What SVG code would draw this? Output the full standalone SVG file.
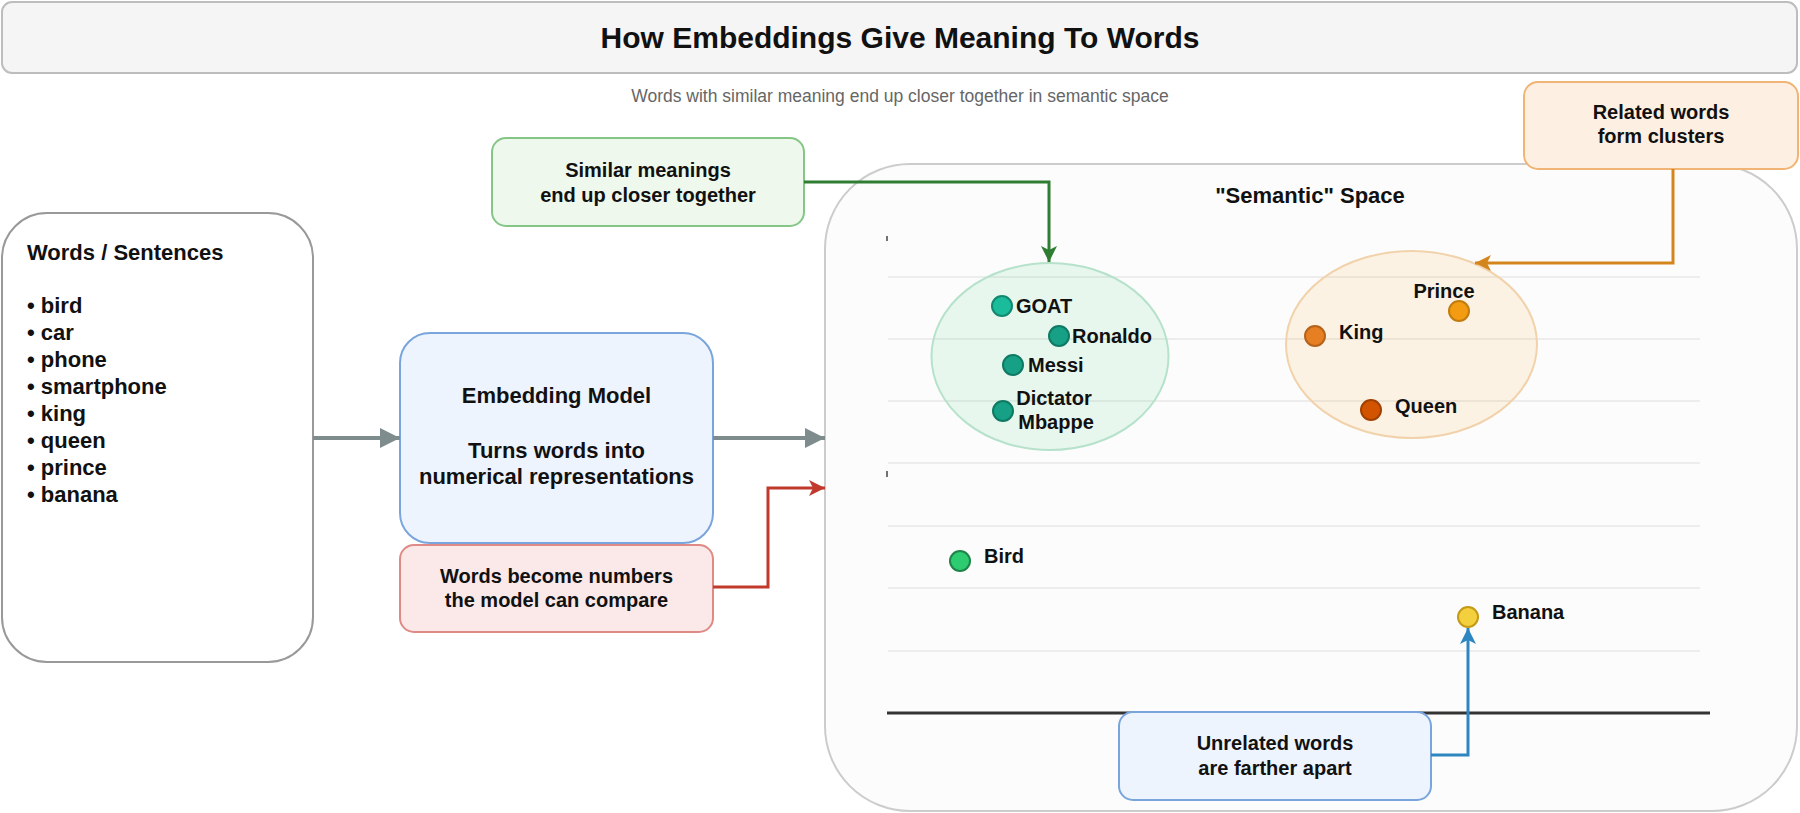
<svg xmlns="http://www.w3.org/2000/svg" width="1800" height="813" viewBox="0 0 1800 813">
<defs>
<style>
text{font-family:"Liberation Sans",Arial,sans-serif;font-weight:bold;fill:#111}
.c{text-anchor:middle}
.t20{font-size:20px}
.t22{font-size:22px}
.grid{stroke:#e8e8e8;stroke-width:1.5}
.conn{fill:none;stroke-width:3}
.pt{stroke-width:2}
</style>
<marker id="mGray" markerUnits="userSpaceOnUse" markerWidth="22" markerHeight="22" refX="20" refY="10" orient="auto" viewBox="0 0 22 22"><path d="M0,0 L20,10 L0,20 z" fill="#7f8c8d"/></marker>
<marker id="mGreen" markerUnits="userSpaceOnUse" markerWidth="18" markerHeight="18" refX="16" refY="8" orient="auto" viewBox="0 0 18 18"><path d="M0,0 L16,8 L0,16 L4,8 z" fill="#2e7d32"/></marker>
<marker id="mRed" markerUnits="userSpaceOnUse" markerWidth="18" markerHeight="18" refX="16" refY="8" orient="auto" viewBox="0 0 18 18"><path d="M0,0 L16,8 L0,16 L4,8 z" fill="#c0392b"/></marker>
<marker id="mOrange" markerUnits="userSpaceOnUse" markerWidth="18" markerHeight="18" refX="16" refY="8" orient="auto" viewBox="0 0 18 18"><path d="M0,0 L16,8 L0,16 L4,8 z" fill="#d4861c"/></marker>
<marker id="mBlue" markerUnits="userSpaceOnUse" markerWidth="18" markerHeight="18" refX="16" refY="8" orient="auto" viewBox="0 0 18 18"><path d="M0,0 L16,8 L0,16 L4,8 z" fill="#2e86c1"/></marker>
</defs>
<rect width="1800" height="813" fill="#ffffff"/>

<g id="title">
<rect x="2" y="2" width="1795" height="71" rx="10" fill="#f5f5f5" stroke="#bdbdbd" stroke-width="2"/>
<text class="c" x="900" y="48" style="font-size:30px">How Embeddings Give Meaning To Words</text>
</g>
<g id="subtitle">
<text class="c" x="900" y="102" style="font-size:17.5px;font-weight:normal;fill:#666">Words with similar meaning end up closer together in semantic space</text>
</g>

<g id="semantic-space">
<rect x="825" y="164" width="972" height="647" rx="85" fill="#fcfcfc" stroke="#cccccc" stroke-width="2"/>
<text class="c t22" x="1310" y="203">"Semantic" Space</text>
<line class="grid" x1="888" y1="277" x2="1700" y2="277"/>
<line class="grid" x1="888" y1="339" x2="1700" y2="339"/>
<line class="grid" x1="888" y1="401" x2="1700" y2="401"/>
<line class="grid" x1="888" y1="463" x2="1700" y2="463"/>
<line class="grid" x1="888" y1="526" x2="1700" y2="526"/>
<line class="grid" x1="888" y1="588" x2="1700" y2="588"/>
<line class="grid" x1="888" y1="651" x2="1700" y2="651"/>
<line x1="887" y1="236" x2="887" y2="241" stroke="#444" stroke-width="1.5"/>
<line x1="887" y1="471" x2="887" y2="477" stroke="#444" stroke-width="1.5"/>
<line x1="887" y1="713" x2="1710" y2="713" stroke="#333" stroke-width="3"/>
</g>

<g id="cluster-green">
<ellipse cx="1050" cy="356.5" rx="118.5" ry="93.5" fill="#2ecc71" fill-opacity="0.1" stroke="#b6e2cb" stroke-width="2"/>
</g>
<g id="cluster-orange">
<ellipse cx="1411.5" cy="344.5" rx="125.5" ry="93.5" fill="#f39c12" fill-opacity="0.1" stroke="#f1d2ab" stroke-width="2"/>
</g>

<g id="words-box">
<rect x="2" y="213" width="311" height="449" rx="45" fill="#ffffff" stroke="#999999" stroke-width="2"/>
<text class="t22" x="27" y="260">Words / Sentences</text>
<text class="t22" x="27" y="313">• bird</text>
<text class="t22" x="27" y="340">• car</text>
<text class="t22" x="27" y="367">• phone</text>
<text class="t22" x="27" y="394">• smartphone</text>
<text class="t22" x="27" y="421">• king</text>
<text class="t22" x="27" y="448">• queen</text>
<text class="t22" x="27" y="475">• prince</text>
<text class="t22" x="27" y="502">• banana</text>
</g>

<g id="embedding-model">
<rect x="400" y="333" width="313" height="210" rx="30" fill="#eef4fd" stroke="#79a5dc" stroke-width="2"/>
<text class="c t22" x="556.5" y="403">Embedding Model</text>
<text class="c t22" x="556.5" y="458">Turns words into</text>
<text class="c t22" x="556.5" y="484">numerical representations</text>
</g>

<g id="note-red">
<rect x="400" y="545" width="313" height="87" rx="14" fill="#fae9e8" stroke="#e08a86" stroke-width="2"/>
<text class="c t20" x="556.5" y="583">Words become numbers</text>
<text class="c t20" x="556.5" y="607">the model can compare</text>
</g>

<g id="note-green">
<rect x="492" y="138" width="312" height="88" rx="14" fill="#eef8ec" stroke="#85c686" stroke-width="2"/>
<text class="c t20" x="648" y="177">Similar meanings</text>
<text class="c t20" x="648" y="202">end up closer together</text>
</g>

<g id="note-orange">
<rect x="1524" y="82" width="274" height="87" rx="14" fill="#fdf0e3" stroke="#f0b474" stroke-width="2"/>
<text class="c t20" x="1661" y="119">Related words</text>
<text class="c t20" x="1661" y="143">form clusters</text>
</g>

<g id="note-blue">
<rect x="1119" y="712" width="312" height="88" rx="14" fill="#edf4fd" stroke="#79a5dc" stroke-width="2"/>
<text class="c t20" x="1275" y="750">Unrelated words</text>
<text class="c t20" x="1275" y="775">are farther apart</text>
</g>

<g id="connectors">
<line x1="313" y1="438" x2="400" y2="438" stroke="#7f8c8d" stroke-width="4" marker-end="url(#mGray)"/>
<line x1="713" y1="438" x2="825" y2="438" stroke="#7f8c8d" stroke-width="4" marker-end="url(#mGray)"/>
<path class="conn" d="M713,587 H768 V488 H825" stroke="#c0392b" marker-end="url(#mRed)"/>
<path class="conn" d="M804,182 H1049 V262" stroke="#2e7d32" marker-end="url(#mGreen)"/>
<path class="conn" d="M1673,169 V263 H1475" stroke="#d4861c" marker-end="url(#mOrange)"/>
<path class="conn" d="M1431,755 H1468 V628" stroke="#2e86c1" marker-end="url(#mBlue)"/>
</g>

<g id="point-goat">
<circle class="pt" cx="1002" cy="306" r="10" fill="#1abc9c" stroke="#13876f"/>
<text class="t20" x="1016" y="313">GOAT</text>
</g>
<g id="point-ronaldo">
<circle class="pt" cx="1059" cy="336" r="10" fill="#16a085" stroke="#0f7a64"/>
<text class="t20" x="1072" y="343">Ronaldo</text>
</g>
<g id="point-messi">
<circle class="pt" cx="1013" cy="365" r="10" fill="#16a085" stroke="#0f7a64"/>
<text class="t20" x="1028" y="372">Messi</text>
</g>
<g id="point-dictator">
<circle class="pt" cx="1003" cy="411" r="10" fill="#16a085" stroke="#0f7a64"/>
<text class="c t20" x="1054" y="405">Dictator</text>
<text class="c t20" x="1056" y="429">Mbappe</text>
</g>
<g id="point-prince">
<circle class="pt" cx="1459" cy="311" r="10" fill="#f39c12" stroke="#c27c0e"/>
<text class="c t20" x="1444" y="298">Prince</text>
</g>
<g id="point-king">
<circle class="pt" cx="1315" cy="336" r="10" fill="#e67e22" stroke="#b5631a"/>
<text class="t20" x="1339" y="339">King</text>
</g>
<g id="point-queen">
<circle class="pt" cx="1371" cy="410" r="10" fill="#d35400" stroke="#a04000"/>
<text class="t20" x="1395" y="413">Queen</text>
</g>
<g id="point-bird">
<circle class="pt" cx="960" cy="561" r="10" fill="#2ecc71" stroke="#1e8449"/>
<text class="t20" x="984" y="563">Bird</text>
</g>
<g id="point-banana">
<circle class="pt" cx="1468" cy="617" r="10" fill="#f4d03f" stroke="#c49b14"/>
<text class="t20" x="1492" y="619">Banana</text>
</g>
</svg>
